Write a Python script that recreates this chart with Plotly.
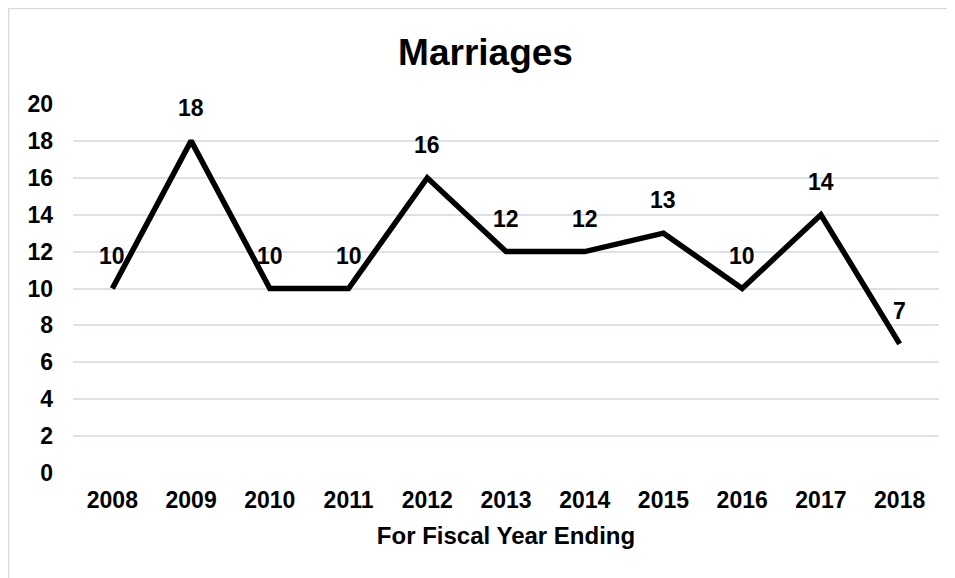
import plotly.graph_objs as go

years = ['2008', '2009', '2010', '2011', '2012', '2013', '2014', '2015', '2016', '2017', '2018']
marriages = [10, 18, 10, 10, 16, 12, 12, 13, 10, 14, 7]
y_ticks = [0, 2, 4, 6, 8, 10, 12, 14, 16, 18, 20]

font_bold = dict(family='Liberation Sans, Arial', size=23, color='black', weight='bold')

fig = go.Figure()
fig.add_trace(go.Scatter(x=years, y=marriages, mode='lines',
                         line=dict(color='black', width=5.5),
                         showlegend=False, hoverinfo='skip'))

# data labels above each point (x given as category index so autorange is not touched)
for i, val in enumerate(marriages):
    fig.add_annotation(x=i, y=val, text='<b>%d</b>' % val, showarrow=False,
                       yanchor='middle', yshift=33, font=font_bold)

# outer chart border
fig.add_shape(type='rect', xref='paper', yref='paper',
              x0=-64.5/866, y0=-120/369, x1=1.1, y1=1 + 95.5/369,
              line=dict(color='#d9d9d9', width=1.5), layer='below')

fig.update_layout(
    width=955, height=578,
    margin=dict(l=65, r=24, t=96, b=113),
    paper_bgcolor='white', plot_bgcolor='white',
    title=dict(text='<b>Marriages</b>', x=0.5, xanchor='center', y=0.923, yanchor='middle',
               font=dict(family='Liberation Sans, Arial', size=37, color='black')),
    xaxis=dict(type='category', range=[-0.5, 10.5], showgrid=False, zeroline=False,
               showline=False, ticks='', tickfont=font_bold, ticklabelstandoff=11,
               title=dict(text='<b>For Fiscal Year Ending</b>',
                          font=dict(family='Liberation Sans, Arial', size=24, color='black'),
                          standoff=15)),
    yaxis=dict(range=[0, 20], tickvals=y_ticks, showgrid=True, gridcolor='#dde1e8', gridwidth=1.5,
               zeroline=False, showline=False, ticks='', tickfont=font_bold, ticklabelstandoff=19),
)

fig.write_html('out.html')
